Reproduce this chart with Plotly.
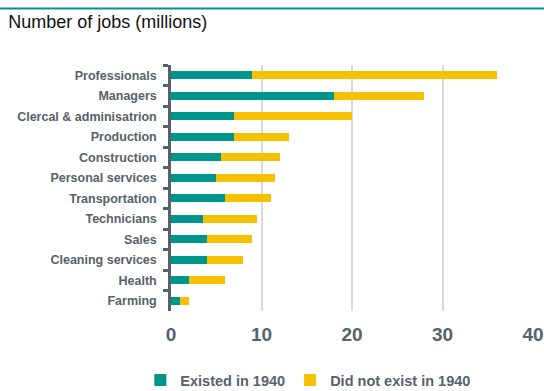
import plotly.graph_objects as go

# Occupations, top to bottom
categories = ["Professionals", "Managers", "Clercal & adminisatrion", "Production",
              "Construction", "Personal services", "Transportation", "Technicians",
              "Sales", "Cleaning services", "Health", "Farming"]
# Jobs (millions) in occupations that already existed in 1940
existed_1940 = [9, 18, 7, 7, 5.5, 5, 6, 3.5, 4, 4, 2, 1]
# Jobs (millions) in occupations that did not exist in 1940
new_since_1940 = [27, 10, 13, 6, 6.5, 6.5, 5, 6, 5, 4, 4, 1]

TEAL = "#00958a"
GOLD = "#f5c100"
SLATE = "#56626b"
FONT = "Liberation Sans, Arial, sans-serif"

fig = go.Figure()
fig.add_trace(go.Bar(y=categories, x=existed_1940, orientation="h",
                     name="Existed in 1940", marker=dict(color=TEAL, line_width=0)))
fig.add_trace(go.Bar(y=categories, x=new_since_1940, orientation="h",
                     name="Did not exist in 1940", marker=dict(color=GOLD, line_width=0)))

fig.update_layout(
    barmode="stack",
    bargap=0.6,
    width=544, height=391,
    margin=dict(l=171, r=11, t=65, b=80, autoexpand=False),
    paper_bgcolor="white", plot_bgcolor="white",
    font=dict(family=FONT, color=SLATE),
    title=dict(text="Number of jobs (millions)", x=0.015, xanchor="left",
               y=0.945, yanchor="middle",
               font=dict(family=FONT, size=18, color="#111111")),
    legend=dict(orientation="h", xref="container", x=0.258, xanchor="left",
                yref="container", y=0.028, yanchor="middle",
                font=dict(family=FONT, size=14.5, color=SLATE, weight="bold"),
                itemwidth=30, traceorder="normal"),
    shapes=[dict(type="line", xref="paper", yref="paper", x0=-1, x1=2, y0=1.23, y1=1.23,
                 line=dict(color=TEAL, width=2))],
)

fig.update_xaxes(range=[0, 40], dtick=10, showgrid=True, gridcolor="#d9d9d9", gridwidth=1.5,
                 zeroline=False, showline=False, ticks="", automargin=False,
                 ticklabelstandoff=10,
                 tickfont=dict(family=FONT, size=19, color=SLATE, weight="bold"))
fig.update_yaxes(autorange="reversed", showline=True, linecolor=SLATE, linewidth=2.5,
                 ticks="outside", tickson="boundaries", ticklen=5, tickwidth=2.5,
                 tickcolor=SLATE, showgrid=False, automargin=False,
                 ticklabelstandoff=9,
                 tickfont=dict(family=FONT, size=12.5, color=SLATE, weight="bold"))

fig.write_html("out.html")
